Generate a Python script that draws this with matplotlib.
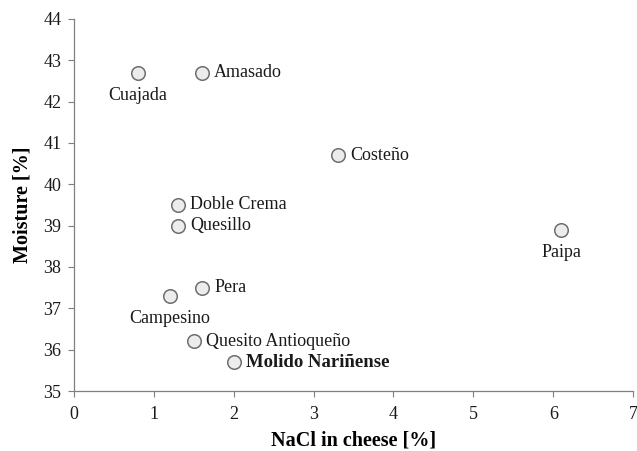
import matplotlib
matplotlib.use('Agg')
import matplotlib.pyplot as plt

plt.rcParams['font.family'] = ['Liberation Serif', 'DejaVu Serif']

names = ['Cuajada', 'Amasado', 'Costeño', 'Doble Crema', 'Quesillo', 'Paipa',
         'Pera', 'Campesino', 'Quesito Antioqueño', 'Molido Nariñense']
nacl = [0.8, 1.6, 3.3, 1.3, 1.3, 6.1, 1.6, 1.2, 1.5, 2.0]
moisture = [42.7, 42.7, 40.7, 39.5, 39.0, 38.9, 37.5, 37.3, 36.2, 35.7]
# where the label goes: 'r' right of the point, 'b' below it
label_pos = ['b', 'r', 'r', 'r', 'r', 'b', 'r', 'b', 'r', 'r']

fig = plt.figure(figsize=(6.37, 4.51), dpi=100)
ax = fig.add_axes([0.116, 0.133, 0.878, 0.825])

ax.scatter(nacl, moisture, s=95, facecolor='#ececec', edgecolor='#6e6e6e',
           linewidth=1.1, zorder=3)

for n, x, y, p in zip(names, nacl, moisture, label_pos):
    bold = n == 'Molido Nariñense'
    if p == 'r':
        ax.annotate(n, (x, y), xytext=(9, 0), textcoords='offset points',
                    ha='left', va='center', fontsize=13.5 if bold else 13,
                    fontweight='bold' if bold else 'normal', color='#1a1a1a')
    else:
        ax.annotate(n, (x, y), xytext=(0, -10), textcoords='offset points',
                    ha='center', va='top', fontsize=13, color='#1a1a1a')

ax.set_xlim(0, 7)
ax.set_ylim(35, 44)
ax.set_xticks(range(0, 8))
ax.set_yticks(range(35, 45))
ax.spines['top'].set_visible(False)
ax.spines['right'].set_visible(False)
for s in ['left', 'bottom']:
    ax.spines[s].set_color('#7f7f7f')
    ax.spines[s].set_linewidth(0.9)
ax.tick_params(direction='out', length=4, color='#7f7f7f', labelsize=13,
               labelcolor='#1a1a1a', pad=5)
ax.tick_params(axis='x', pad=7)
ax.set_xlabel('NaCl in cheese [%]', fontsize=14.5, fontweight='bold', labelpad=5)
ax.set_ylabel('Moisture [%]', fontsize=14.5, fontweight='bold', labelpad=8)

fig.savefig('out.png', dpi=100)
